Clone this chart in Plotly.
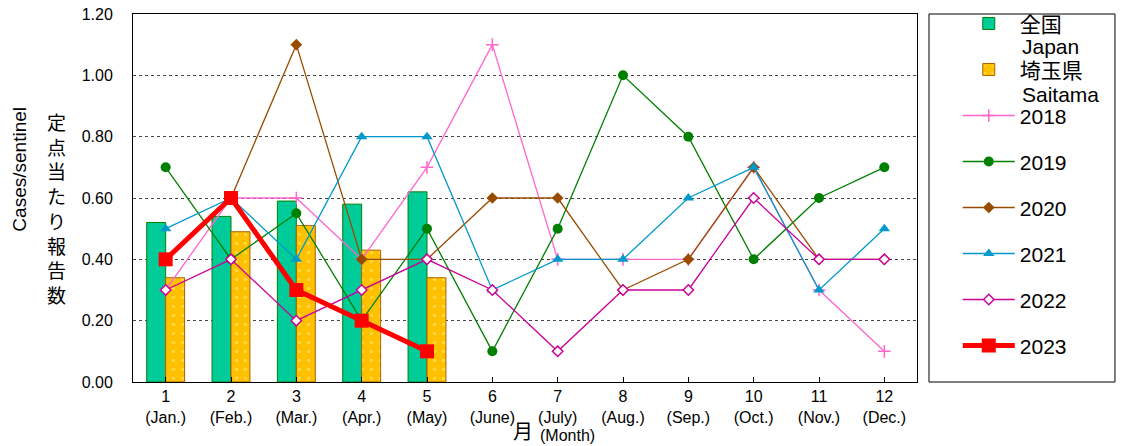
import plotly.graph_objects as go

months = [1, 2, 3, 4, 5, 6, 7, 8, 9, 10, 11, 12]
month_labels = ["1<br>(Jan.)", "2<br>(Feb.)", "3<br>(Mar.)", "4<br>(Apr.)", "5<br>(May)",
                "6<br>(June)", "7<br>(July)", "8<br>(Aug.)", "9<br>(Sep.)", "10<br>(Oct.)",
                "11<br>(Nov.)", "12<br>(Dec.)"]

japan = [0.52, 0.54, 0.59, 0.58, 0.62]
saitama = [0.34, 0.49, 0.51, 0.43, 0.34]

y2018 = [0.3, 0.6, 0.6, 0.4, 0.7, 1.1, 0.4, 0.4, 0.4, 0.7, 0.3, 0.1]
y2019 = [0.7, 0.4, 0.55, 0.2, 0.5, 0.1, 0.5, 1.0, 0.8, 0.4, 0.6, 0.7]
y2020 = [0.4, 0.6, 1.1, 0.4, 0.4, 0.6, 0.6, 0.3, 0.4, 0.7, 0.4, 0.4]
y2021 = [0.5, 0.6, 0.4, 0.8, 0.8, 0.3, 0.4, 0.4, 0.6, 0.7, 0.3, 0.5]
y2022 = [0.3, 0.4, 0.2, 0.3, 0.4, 0.3, 0.1, 0.3, 0.3, 0.6, 0.4, 0.4]
y2023 = [0.4, 0.6, 0.3, 0.2, 0.1]

FONT = "Liberation Sans, Arial, sans-serif"
CJK = "Noto Sans CJK JP, sans-serif"

fig = go.Figure()

fig.add_trace(go.Bar(x=months[:len(japan)], y=japan, name="全国",
                     marker=dict(color="#00CC99", line=dict(color="#008000", width=1)),
                     legendgroup="a"))
fig.add_trace(go.Bar(x=months[:len(saitama)], y=saitama, name="埼玉県",
                     marker=dict(color="#FFC000", line=dict(color="#B06000", width=1),
                                 pattern=dict(shape=".", fgcolor="#FFF080", size=9,
                                              solidity=0.12, fillmode="overlay")),
                     legendgroup="b"))

line_specs = [
    ("2018", y2018, "#FF66CC", dict(symbol="cross-thin", size=9, line=dict(color="#FF66CC", width=1.5))),
    ("2019", y2019, "#008000", dict(symbol="circle", size=10, color="#008000")),
    ("2020", y2020, "#994C00", dict(symbol="diamond", size=9, color="#994C00")),
    ("2021", y2021, "#0099CC", dict(symbol="triangle-up", size=10, color="#0099CC")),
    ("2022", y2022, "#CC0099", dict(symbol="diamond", size=8, color="white",
                                    line=dict(color="#CC0099", width=1.5))),
]
for i, (name, vals, col, mk) in enumerate(line_specs):
    fig.add_trace(go.Scatter(x=months[:len(vals)], y=vals, name=name, mode="lines+markers",
                             line=dict(color=col, width=1.3), marker=mk,
                             legendgroup="g%d" % i))

fig.add_trace(go.Scatter(x=months[:len(y2023)], y=y2023, name="2023", mode="lines+markers",
                         line=dict(color="#FF0000", width=5),
                         marker=dict(symbol="square", size=14, color="#FF0000"),
                         legendgroup="z"))

fig.update_layout(
    width=1130, height=446,
    margin=dict(l=133, r=213, t=14, b=64, autoexpand=False),
    paper_bgcolor="white", plot_bgcolor="white",
    font=dict(family=FONT, size=16, color="black"),
    barmode="group", bargap=0.42, bargroupgap=0,
    showlegend=True,
    legend=dict(x=1.052, xanchor="left", y=1.029, yanchor="top",
                font=dict(family=FONT + ", " + CJK, size=21),
                valign="middle", itemwidth=52, tracegroupgap=15.7, maxheight=446,
                bgcolor="rgba(0,0,0,0)", borderwidth=0),
)

fig.update_xaxes(range=[0.5, 12.5], tickvals=months, ticktext=month_labels,
                 ticks="inside", ticklen=5, tickcolor="black",
                 showline=True, linecolor="black", linewidth=1, mirror=True,
                 showgrid=False, zeroline=False, tickfont=dict(size=16))
fig.update_yaxes(range=[0, 1.2], dtick=0.2, tickformat=".2f",
                 showline=True, linecolor="black", linewidth=1, mirror=True,
                 showgrid=True, gridcolor="#444444", griddash="dot", gridwidth=1,
                 zeroline=False, ticks="", ticklen=0, tickfont=dict(size=16),
                 ticklabelstandoff=16)

# legend frame
fig.add_shape(type="rect", xref="paper", yref="paper", x0=1.0153, x1=1.2525, y0=0, y1=1.0,
              line=dict(color="black", width=1), fillcolor="rgba(0,0,0,0)", layer="below")

# second lines of the two bar legend entries
fig.add_annotation(text="Japan", xref="paper", yref="paper", x=1.1314, y=0.912,
                   showarrow=False, font=dict(family=FONT, size=21),
                   xanchor="left", yanchor="middle")
fig.add_annotation(text="Saitama", xref="paper", yref="paper", x=1.1314, y=0.782,
                   showarrow=False, font=dict(family=FONT, size=21),
                   xanchor="left", yanchor="middle")

fig.add_annotation(text="Cases/sentinel", xref="paper", yref="paper", x=-0.1445, y=0.579,
                   textangle=-90, showarrow=False, font=dict(family=FONT, size=19),
                   xanchor="center", yanchor="middle")
fig.add_annotation(text="<br>".join(list("定点当たり報告数")), xref="paper", yref="paper",
                   x=-0.097, y=0.473, showarrow=False,
                   font=dict(family=CJK, size=19), xanchor="center", yanchor="middle")
fig.add_annotation(text="月", xref="paper", yref="paper", x=0.497, y=-0.133,
                   showarrow=False, font=dict(family=CJK, size=20),
                   xanchor="center", yanchor="middle")
fig.add_annotation(text="(Month)", xref="paper", yref="paper", x=0.554, y=-0.145,
                   showarrow=False, font=dict(family=FONT, size=16),
                   xanchor="center", yanchor="middle")

fig.write_html("out.html", config={"displayModeBar": False},
               post_script="document.body.style.margin='0';")
